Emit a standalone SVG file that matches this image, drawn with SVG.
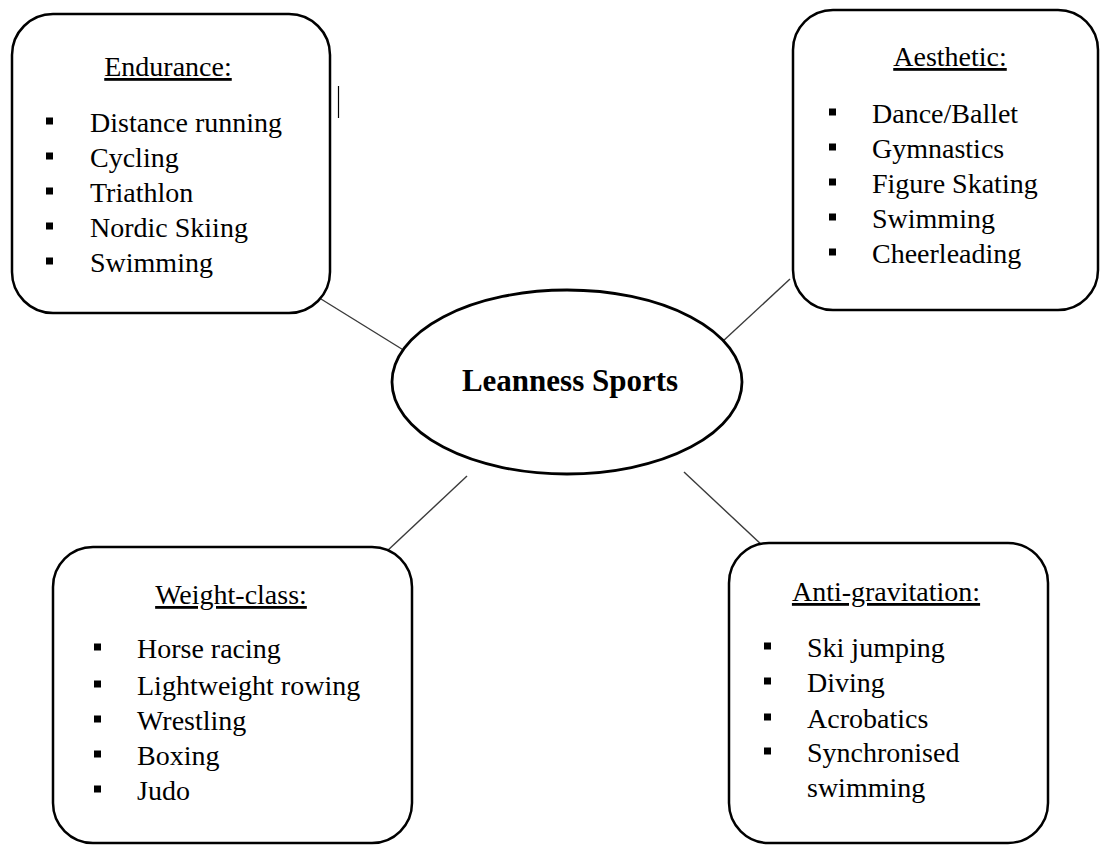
<svg xmlns="http://www.w3.org/2000/svg" width="1100" height="845" viewBox="0 0 1100 845">
  <style>
    .box { fill: #fff; stroke: #000; stroke-width: 2.5; }
    .hub { fill: #fff; stroke: #000; stroke-width: 2.8; }
    .link { stroke: #3a3a3a; stroke-width: 1.4; fill: none; }
    .title { font-family: "Liberation Serif", "Times New Roman", serif; font-size: 28px; fill: #000; text-anchor: middle; text-decoration: underline; }
    .item { font-family: "Liberation Serif", "Times New Roman", serif; font-size: 28px; fill: #000; }
    .hubtext { font-family: "Liberation Serif", "Times New Roman", serif; font-size: 31px; font-weight: bold; fill: #000; text-anchor: middle; }
    .dot { fill: #000; }
  </style>
  <rect width="1100" height="845" fill="#fff"/>

  <!-- connectors from the hub to each category -->
  <g id="connectors">
    <line class="link" x1="321" y1="299" x2="405" y2="351"/>
    <line class="link" x1="790" y1="279" x2="722" y2="342"/>
    <line class="link" x1="467" y1="476" x2="386" y2="552"/>
    <line class="link" x1="684" y1="472" x2="764" y2="547"/>
  </g>

  <!-- central hub -->
  <g id="hub">
    <ellipse class="hub" cx="567" cy="382" rx="175" ry="92"/>
    <text class="hubtext" x="570" y="391">Leanness Sports</text>
  </g>

  <!-- Endurance -->
  <g id="endurance">
    <rect class="box" x="12" y="14" width="318" height="299" rx="41" ry="41"/>
    <text class="title" x="168" y="76">Endurance:</text>
    <rect class="dot" x="46" y="117.5" width="7" height="7"/>
    <rect class="dot" x="46" y="152.5" width="7" height="7"/>
    <rect class="dot" x="46" y="187.5" width="7" height="7"/>
    <rect class="dot" x="46" y="222.5" width="7" height="7"/>
    <rect class="dot" x="46" y="257.5" width="7" height="7"/>
    <text class="item" x="90" y="132">Distance running</text>
    <text class="item" x="90" y="167">Cycling</text>
    <text class="item" x="90" y="202">Triathlon</text>
    <text class="item" x="90" y="237">Nordic Skiing</text>
    <text class="item" x="90" y="272">Swimming</text>
  </g>

  <!-- text cursor mark -->
  <line x1="338.5" y1="86" x2="338.5" y2="118" stroke="#000" stroke-width="1.2"/>

  <!-- Aesthetic -->
  <g id="aesthetic">
    <rect class="box" x="793" y="10" width="305" height="300" rx="40" ry="40"/>
    <text class="title" x="950" y="66">Aesthetic:</text>
    <rect class="dot" x="829" y="108.5" width="7" height="7"/>
    <rect class="dot" x="829" y="143.5" width="7" height="7"/>
    <rect class="dot" x="829" y="178.5" width="7" height="7"/>
    <rect class="dot" x="829" y="213.5" width="7" height="7"/>
    <rect class="dot" x="829" y="248.5" width="7" height="7"/>
    <text class="item" x="872" y="123">Dance/Ballet</text>
    <text class="item" x="872" y="158">Gymnastics</text>
    <text class="item" x="872" y="193">Figure Skating</text>
    <text class="item" x="872" y="228">Swimming</text>
    <text class="item" x="872" y="263">Cheerleading</text>
  </g>

  <!-- Weight-class -->
  <g id="weight-class">
    <rect class="box" x="53" y="547" width="359" height="296" rx="40" ry="40"/>
    <text class="title" x="231" y="604">Weight-class:</text>
    <rect class="dot" x="94" y="643.5" width="7" height="7"/>
    <rect class="dot" x="94" y="680.5" width="7" height="7"/>
    <rect class="dot" x="94" y="715.5" width="7" height="7"/>
    <rect class="dot" x="94" y="750.5" width="7" height="7"/>
    <rect class="dot" x="94" y="785.5" width="7" height="7"/>
    <text class="item" x="137" y="658">Horse racing</text>
    <text class="item" x="137" y="695">Lightweight rowing</text>
    <text class="item" x="137" y="730">Wrestling</text>
    <text class="item" x="137" y="765">Boxing</text>
    <text class="item" x="137" y="800">Judo</text>
  </g>

  <!-- Anti-gravitation -->
  <g id="anti-gravitation">
    <rect class="box" x="729" y="543" width="319" height="300" rx="40" ry="40"/>
    <text class="title" x="886" y="601">Anti-gravitation:</text>
    <rect class="dot" x="764" y="642.5" width="7" height="7"/>
    <rect class="dot" x="764" y="677.5" width="7" height="7"/>
    <rect class="dot" x="764" y="713.5" width="7" height="7"/>
    <rect class="dot" x="764" y="747.5" width="7" height="7"/>
    <text class="item" x="807" y="657">Ski jumping</text>
    <text class="item" x="807" y="692">Diving</text>
    <text class="item" x="807" y="728">Acrobatics</text>
    <text class="item" x="807" y="762">Synchronised</text>
    <text class="item" x="807" y="797">swimming</text>
  </g>
</svg>
